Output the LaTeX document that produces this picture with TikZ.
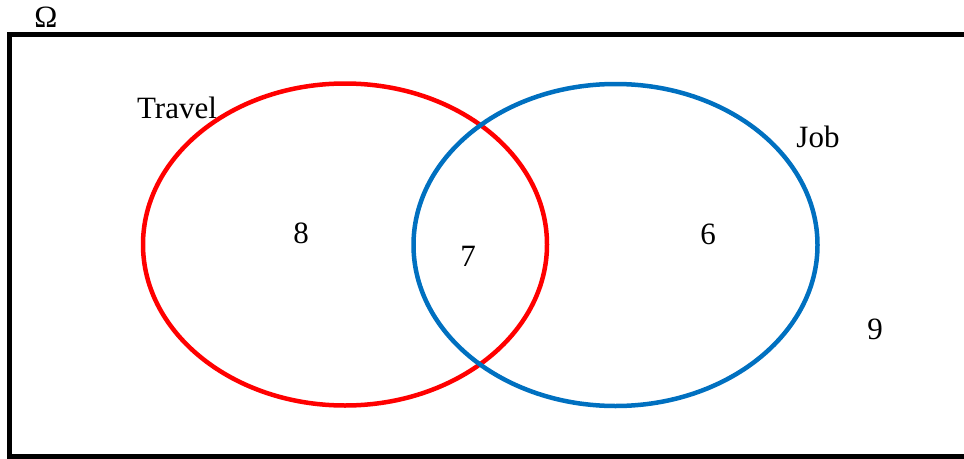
\documentclass[tikz,border=0pt]{standalone}
\usepackage{fontspec}
\setmainfont{Liberation Serif}
\usetikzlibrary{shapes.geometric}
\definecolor{setred}{RGB}{255,0,0}
\definecolor{setblue}{RGB}{0,112,192}
\tikzset{
  setoval/.style={ellipse, draw, line width=4.5pt, inner sep=0pt,
                  minimum width=404pt, minimum height=322pt},
  lbl/.style={inner sep=0pt, font=\fontsize{31}{34}\selectfont},
}
\begin{document}
\begin{tikzpicture}[x=1pt, y=-1pt]
  \useasboundingbox (0,0) rectangle (964,458);
  \begin{scope}
    \clip (0,0) rectangle (964,458);
    % universe box, running past the right edge
    \draw[line width=5pt] (980,34.5) -- (9.5,34.5) -- (9.5,456) -- (980,456);
  \end{scope}
  \node[lbl] (omega) at (46,17) {Ω};

  \node[setoval, setred]  (travel) at (345,244.5) {};
  \node[setoval, setblue] (job)    at (615.5,245) {};

  \node[lbl] (travelname) at (177,108) {Travel};
  \node[lbl] (jobname)    at (818,137) {Job};
  \node[lbl] (onlytravel) at (301,233) {8};
  \node[lbl] (both)       at (468,256) {7};
  \node[lbl] (onlyjob)    at (708,234) {6};
  \node[lbl] (neither)    at (875,329) {9};
\end{tikzpicture}
\end{document}
